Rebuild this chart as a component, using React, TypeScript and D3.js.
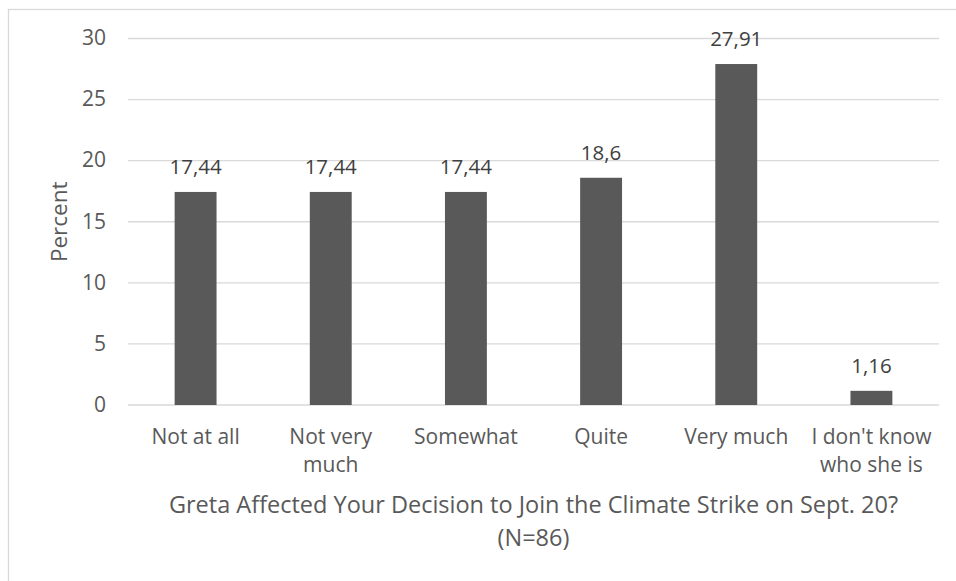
import React from "react";
import * as d3 from "d3";

const categories: string[][] = [
  ["Not at all"],
  ["Not very", "much"],
  ["Somewhat"],
  ["Quite"],
  ["Very much"],
  ["I don't know", "who she is"],
];
const values: number[] = [17.44, 17.44, 17.44, 18.6, 27.91, 1.16];
const valueLabels: string[] = ["17,44", "17,44", "17,44", "18,6", "27,91", "1,16"];
const yTicks: number[] = [0, 5, 10, 15, 20, 25, 30];
const yAxisTitle = "Percent";
const xAxisTitle: string[] = [
  "Greta Affected Your Decision to Join the Climate Strike on Sept. 20?",
  "(N=86)",
];

const W = 956;
const H = 581;
const FONT = "'Open Sans', 'Noto Sans', sans-serif";
const AXIS_COLOR = "#595959";
const LABEL_COLOR = "#404040";
const GRID = "#d9d9d9";

export default function App() {
  const keys = categories.map((c) => c.join(" "));
  const x = d3
    .scaleBand<string>()
    .domain(keys)
    .range([128, 939])
    .paddingInner(0.69)
    .paddingOuter(0.345);
  const y = d3.scaleLinear().domain([0, 30]).range([405, 38.5]);
  const plotMid = (y(0) + y(30)) / 2;
  const xMid = (128 + 939) / 2;

  return (
    <svg
      width={W}
      height={H}
      style={{ position: "absolute", left: 0, top: 0, background: "#fff" }}
      fontFamily={FONT}
    >
      <rect x={0} y={0} width={W} height={H} fill="#fff" />
      <rect x={8.5} y={9.5} width={W + 20} height={H + 20} fill="none" stroke={GRID} strokeWidth={1.3} />
      {yTicks.map((t) => (
        <g key={t}>
          <line x1={128} x2={939} y1={y(t)} y2={y(t)} stroke={GRID} strokeWidth={1.3} />
          <text x={106} y={y(t) + 6.8} textAnchor="end" fontSize={21} fill={AXIS_COLOR}>
            {t}
          </text>
        </g>
      ))}
      {values.map((v, i) => {
        const k = keys[i];
        const x0 = x(k)!;
        const cx = x0 + x.bandwidth() / 2;
        return (
          <g key={k}>
            <rect x={x0} y={y(v)} width={x.bandwidth()} height={y(0) - y(v)} fill="#595959" />
            <text x={cx} y={y(v) - 17.7} textAnchor="middle" fontSize={20.5} fill={LABEL_COLOR}>
              {valueLabels[i]}
            </text>
            {categories[i].map((line, j) => (
              <text key={j} x={cx} y={444 + j * 28} textAnchor="middle" fontSize={21} fill={AXIS_COLOR}>
                {line}
              </text>
            ))}
          </g>
        );
      })}
      <text
        transform={`translate(66.5, ${plotMid}) rotate(-90)`}
        textAnchor="middle"
        fontSize={22.5}
        fill={AXIS_COLOR}
      >
        {yAxisTitle}
      </text>
      {xAxisTitle.map((line, j) => (
        <text key={j} x={xMid} y={513 + j * 33} textAnchor="middle" fontSize={23.5} fill={AXIS_COLOR}>
          {line}
        </text>
      ))}
    </svg>
  );
}
